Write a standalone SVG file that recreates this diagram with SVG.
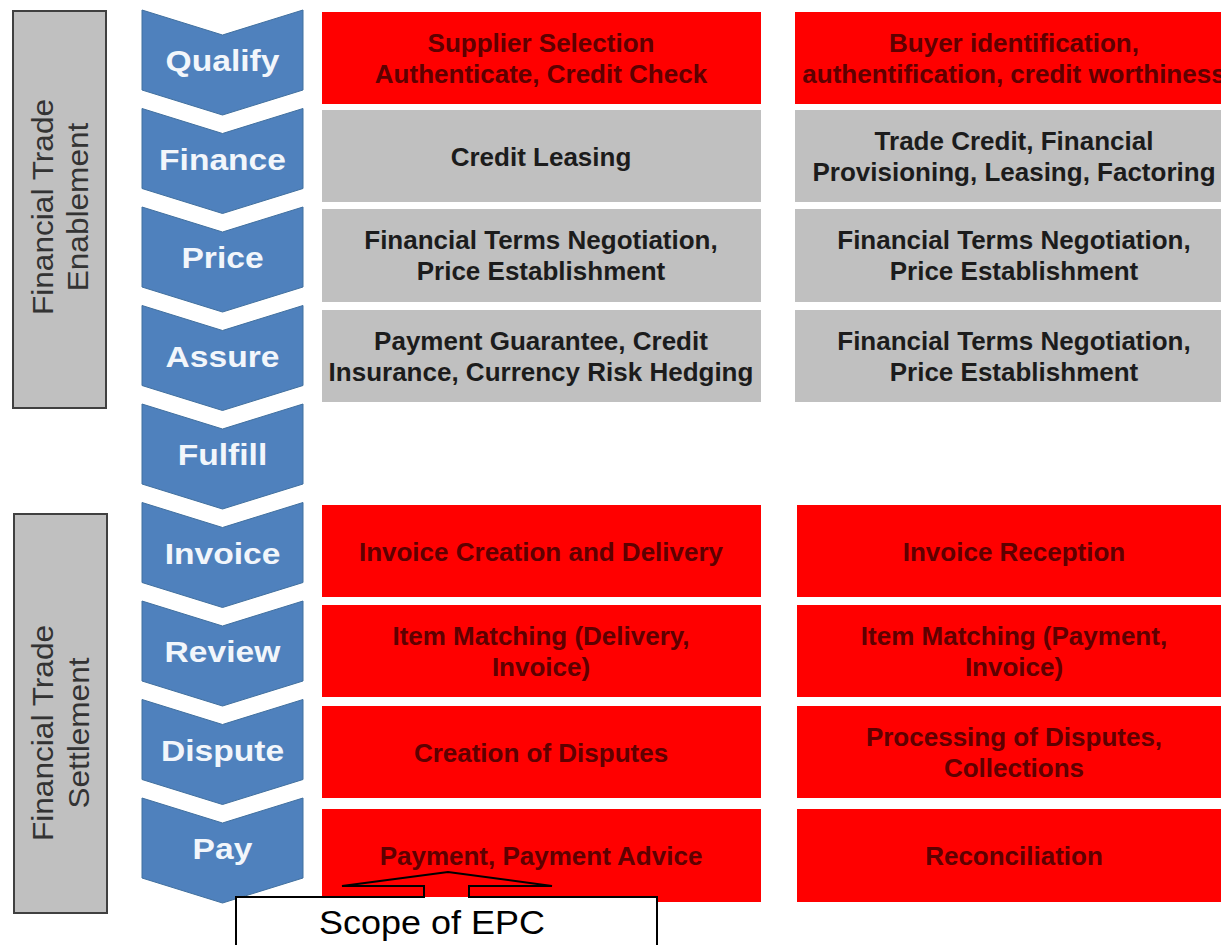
<svg xmlns="http://www.w3.org/2000/svg" xmlns:xlink="http://www.w3.org/1999/xlink" width="1221" height="945" viewBox="0 0 1221 945">
<defs>
<style>
.side{fill:#c0c0c0;stroke:#404040;stroke-width:2}
.sidet{font-family:"Liberation Sans",Arial,sans-serif;font-size:29px;fill:#333;text-anchor:middle}
.chev{fill:#4f81bd;stroke:#41709f;stroke-width:1}
.chevt{font-family:"Liberation Sans",Arial,sans-serif;font-size:30px;font-weight:bold;fill:#f2f6fb;text-anchor:middle}
.red{fill:#ff0000}
.gray{fill:#c0c0c0}
.rt{font-family:"Liberation Sans",Arial,sans-serif;font-size:26px;font-weight:bold;fill:#5e0000;text-anchor:middle}
.gt{font-family:"Liberation Sans",Arial,sans-serif;font-size:26px;font-weight:bold;fill:#1c1c1c;text-anchor:middle}
.call{fill:none;stroke:#000;stroke-width:2}
.callt{font-family:"Liberation Sans",Arial,sans-serif;font-size:33px;fill:#000;text-anchor:middle}
</style>
<path id="chevron" d="M142,0 L222.5,25 L303,0 L303,80 L222.5,105 L142,80 Z"/>
</defs>
<rect x="0" y="0" width="1221" height="945" fill="#ffffff"/>

<g id="side-enablement">
<rect class="side" x="13" y="11" width="93" height="397"/>
<g transform="translate(0,207) rotate(-90) scale(1.09,1)">
<text class="sidet" x="0" y="53">Financial Trade</text>
<text class="sidet" x="0" y="88">Enablement</text>
</g>
</g>
<g id="side-settlement">
<rect class="side" x="14" y="514" width="93" height="399"/>
<g transform="translate(0,733) rotate(-90) scale(1.09,1)">
<text class="sidet" x="0" y="53">Financial Trade</text>
<text class="sidet" x="0" y="89">Settlement</text>
</g>
</g>

<g id="step-qualify"><use xlink:href="#chevron" class="chev" transform="translate(0,10)"/><g transform="translate(222.5,71) scale(1.12,1)"><text class="chevt">Qualify</text></g></g>
<g id="step-finance"><use xlink:href="#chevron" class="chev" transform="translate(0,108.5)"/><g transform="translate(222.5,169.5) scale(1.12,1)"><text class="chevt">Finance</text></g></g>
<g id="step-price"><use xlink:href="#chevron" class="chev" transform="translate(0,207)"/><g transform="translate(222.5,268) scale(1.12,1)"><text class="chevt">Price</text></g></g>
<g id="step-assure"><use xlink:href="#chevron" class="chev" transform="translate(0,305.5)"/><g transform="translate(222.5,366.5) scale(1.12,1)"><text class="chevt">Assure</text></g></g>
<g id="step-fulfill"><use xlink:href="#chevron" class="chev" transform="translate(0,404)"/><g transform="translate(222.5,465) scale(1.12,1)"><text class="chevt">Fulfill</text></g></g>
<g id="step-invoice"><use xlink:href="#chevron" class="chev" transform="translate(0,502.5)"/><g transform="translate(222.5,563.5) scale(1.12,1)"><text class="chevt">Invoice</text></g></g>
<g id="step-review"><use xlink:href="#chevron" class="chev" transform="translate(0,601)"/><g transform="translate(222.5,662) scale(1.12,1)"><text class="chevt">Review</text></g></g>
<g id="step-dispute"><use xlink:href="#chevron" class="chev" transform="translate(0,699.5)"/><g transform="translate(222.5,760.5) scale(1.12,1)"><text class="chevt">Dispute</text></g></g>
<g id="step-pay"><use xlink:href="#chevron" class="chev" transform="translate(0,798)"/><g transform="translate(222.5,859) scale(1.12,1)"><text class="chevt">Pay</text></g></g>

<!-- Supplier column -->
<g id="s-qualify"><rect class="red" x="322" y="12" width="439" height="92"/><text class="rt" x="541" y="52">Supplier Selection</text><text class="rt" x="541" y="83">Authenticate, Credit Check</text></g>
<g id="s-finance"><rect class="gray" x="322" y="110" width="439" height="92"/><text class="gt" x="541" y="165.5">Credit Leasing</text></g>
<g id="s-price"><rect class="gray" x="322" y="209" width="439" height="93"/><text class="gt" x="541" y="249">Financial Terms Negotiation,</text><text class="gt" x="541" y="280">Price Establishment</text></g>
<g id="s-assure"><rect class="gray" x="322" y="310" width="439" height="92"/><text class="gt" x="541" y="350">Payment Guarantee, Credit</text><text class="gt" x="541" y="381">Insurance, Currency Risk Hedging</text></g>
<g id="s-invoice"><rect class="red" x="322" y="505" width="439" height="92"/><text class="rt" x="541" y="560.5">Invoice Creation and Delivery</text></g>
<g id="s-review"><rect class="red" x="322" y="605" width="439" height="92"/><text class="rt" x="541" y="645">Item Matching (Delivery,</text><text class="rt" x="541" y="676">Invoice)</text></g>
<g id="s-dispute"><rect class="red" x="322" y="706" width="439" height="92"/><text class="rt" x="541" y="761.5">Creation of Disputes</text></g>
<g id="s-pay"><rect class="red" x="322" y="809" width="439" height="93"/><text class="rt" x="541" y="864.5">Payment, Payment Advice</text></g>

<!-- Buyer column -->
<g id="b-qualify"><rect class="red" x="795" y="12" width="426" height="92"/><text class="rt" x="1014" y="52">Buyer identification,</text><text class="rt" x="1014" y="83">authentification, credit worthiness</text></g>
<g id="b-finance"><rect class="gray" x="795" y="110" width="426" height="92"/><text class="gt" x="1014" y="150">Trade Credit, Financial</text><text class="gt" x="1014" y="181">Provisioning, Leasing, Factoring</text></g>
<g id="b-price"><rect class="gray" x="795" y="209" width="426" height="93"/><text class="gt" x="1014" y="249">Financial Terms Negotiation,</text><text class="gt" x="1014" y="280">Price Establishment</text></g>
<g id="b-assure"><rect class="gray" x="795" y="310" width="426" height="92"/><text class="gt" x="1014" y="350">Financial Terms Negotiation,</text><text class="gt" x="1014" y="381">Price Establishment</text></g>
<g id="b-invoice"><rect class="red" x="797" y="505" width="424" height="92"/><text class="rt" x="1014" y="560.5">Invoice Reception</text></g>
<g id="b-review"><rect class="red" x="797" y="605" width="424" height="92"/><text class="rt" x="1014" y="645">Item Matching (Payment,</text><text class="rt" x="1014" y="676">Invoice)</text></g>
<g id="b-dispute"><rect class="red" x="797" y="706" width="424" height="92"/><text class="rt" x="1014" y="746">Processing of Disputes,</text><text class="rt" x="1014" y="777">Collections</text></g>
<g id="b-pay"><rect class="red" x="797" y="809" width="424" height="93"/><text class="rt" x="1014" y="864.5">Reconciliation</text></g>

<g id="connectors">
<g id="scope-callout">
<rect x="236" y="897" width="421" height="60" fill="#ffffff"/>
<path class="call" d="M236,950 L236,897 L424,897 L424,886 L342,886 L448,872 L552,886 L469,886 L469,897 L657,897 L657,950"/>
<text class="callt" x="432" y="934" textLength="226" lengthAdjust="spacingAndGlyphs">Scope of EPC</text>
</g>
</g>
</svg>
